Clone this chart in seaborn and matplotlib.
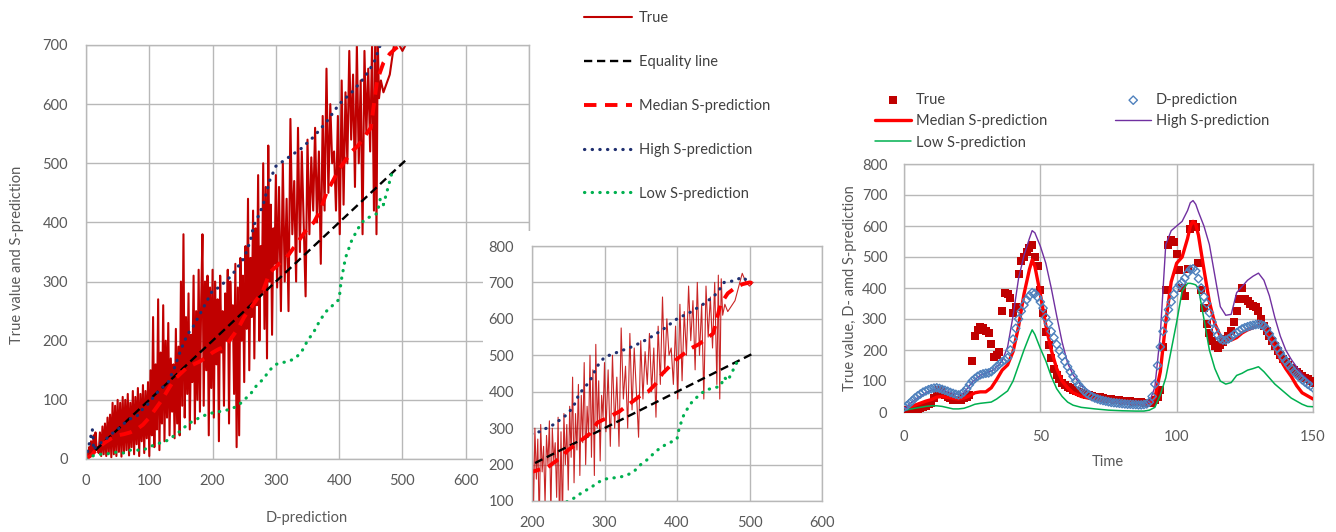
import numpy as np
import matplotlib
matplotlib.use("Agg")
import matplotlib.pyplot as plt
import seaborn as sns
from matplotlib.patches import Rectangle

sns.set_style("white")
plt.rcParams['font.family'] = ['Lato', 'DejaVu Sans']

# ---------------- left chart: True value vs D-prediction ----------------
true_d = [0, 2, 4, 5, 7, 8, 10, 12, 14, 15, 17, 18,
          20, 22, 24, 26, 28, 30, 32, 34, 36, 38, 40, 42, 44, 46, 48, 50, 52, 54, 56, 58, 60,
          62, 64, 66, 68, 70, 72, 74, 76, 78, 80, 82, 84, 86, 88, 90, 92, 94, 96, 98, 100,
          102, 104, 106, 108, 110, 112, 114, 116, 118, 120, 122, 124, 126, 128, 130, 132, 134, 136, 138, 140,
          142, 144, 146, 148, 150, 152, 154, 156, 158, 160,
          162, 164, 166, 168, 170, 172, 174, 176, 178, 180,
          182, 184, 186, 188, 190, 192, 194, 196, 198, 200,
          202, 204, 206, 208, 210, 212, 214, 216, 218, 220,
          222, 224, 226, 228, 230, 232, 234, 236, 238, 240,
          242, 244, 246, 248, 250, 252, 254, 256, 258, 260,
          262, 264, 266, 268, 270, 272, 274, 276, 278, 280,
          282, 284, 286, 288, 290, 292, 294, 296, 298, 300,
          302, 305, 308, 311, 314, 317, 320, 323, 326, 329,
          332, 335, 338, 341, 344, 347, 350, 353, 356, 359,
          362, 365, 368, 371, 374, 377, 380, 383, 386, 389,
          392, 395, 398, 401, 404, 407, 410, 413, 416, 419,
          422, 425, 428, 431, 434, 437, 440, 443, 446, 449,
          452, 455, 457, 459, 461, 463, 466, 470, 480, 490, 495, 500, 505]
true_y = [0, 10, 3, 20, 5, 30, 8, 40, 12, 45, 15, 20,
          10, 45, 5, 55, 8, 60, 5, 70, 10, 75, 3, 95, 8, 90, 5, 100, 12, 95, 4, 105, 10,
          100, 15, 110, 6, 95, 20, 115, 8, 105, 25, 120, 5, 110, 30, 125, 10, 115, 35, 130, 5,
          150, 40, 240, 20, 160, 50, 270, 15, 180, 60, 260, 30, 200, 70, 230, 40, 170, 80, 160, 35,
          220, 60, 190, 40, 300, 90, 380, 70, 240, 110,
          280, 50, 210, 130, 310, 60, 250, 100, 320, 80,
          270, 380, 90, 300, 150, 310, 40, 290, 120, 320,
          70, 300, 160, 270, 30, 310, 180, 250, 90, 280,
          200, 320, 60, 300, 210, 260, 110, 330, 20, 290,
          40, 340, 200, 310, 130, 360, 220, 440, 150, 340,
          240, 420, 170, 390, 260, 480, 200, 360, 280, 500,
          220, 460, 170, 530, 300, 430, 210, 390, 330, 480,
          290, 460, 250, 500, 300, 440, 250, 575, 380, 470,
          300, 560, 350, 520, 400, 275, 540, 380, 510, 420,
          560, 400, 520, 330, 580, 420, 660, 450, 600, 500,
          520, 420, 580, 380, 640, 430, 620, 500, 690, 540,
          650, 460, 700, 500, 640, 380, 690, 550, 660, 520,
          700, 420, 720, 380, 710, 610, 640, 620, 650, 725, 700, 690, 700]

eq_d = [0, 505]
eq_y = [0, 505]

med_d = [0, 10, 20, 30, 40, 50, 60, 70, 80, 90, 100, 110, 120, 130, 140, 150, 160, 170,
         180, 190, 200, 210, 220, 230, 240, 250, 260, 270, 280, 290, 300, 310, 320, 330,
         340, 350, 360, 370, 380, 390, 400, 410, 420, 430, 440, 450, 455, 460, 470, 480,
         490, 500, 505]
med_y = [0, 8, 20, 28, 35, 40, 42, 45, 50, 58, 70, 85, 100, 118, 135, 145, 155, 160,
         165, 172, 180, 186, 190, 205, 220, 240, 255, 270, 285, 315, 325, 335, 345, 360,
         375, 390, 400, 420, 450, 470, 490, 505, 520, 530, 545, 560, 600, 640, 670, 685,
         695, 700, 698]

high_d = [0, 3, 6, 9, 10, 11, 12, 15, 20, 30, 40, 50, 60, 70, 80, 90, 100, 110, 120,
          130, 140, 150, 160, 170, 180, 190, 200, 210, 220, 230, 240, 250, 260, 265, 270,
          280, 290, 300, 320, 340, 360, 380, 400, 420, 440, 455, 465, 480, 490, 500]
high_y = [0, 15, 30, 45, 50, 40, 15, 20, 25, 32, 42, 50, 60, 68, 72, 85, 95, 110, 120,
          130, 155, 185, 210, 225, 245, 265, 285, 290, 300, 310, 325, 340, 370, 395, 405,
          430, 470, 495, 510, 525, 545, 570, 600, 620, 645, 670, 700, 705, 715, 700]

low_d = [0, 10, 20, 30, 40, 50, 60, 70, 80, 90, 100, 110, 120, 130, 140, 150, 160, 170,
         180, 190, 200, 210, 220, 230, 240, 250, 260, 270, 280, 290, 300, 310, 320, 330,
         340, 350, 360, 370, 380, 390, 400, 403, 410, 420, 430, 440, 450, 460, 465, 470,
         475, 480, 485]
low_y = [0, 5, 8, 8, 10, 12, 10, 15, 15, 15, 20, 25, 28, 32, 40, 48, 58, 65,
         70, 75, 78, 80, 82, 85, 90, 100, 110, 125, 135, 150, 160, 163, 165, 170,
         180, 200, 215, 235, 250, 260, 270, 300, 340, 370, 390, 405, 410, 415, 440, 430,
         450, 470, 490]

# ---------------- right chart: time series ----------------
time = np.arange(151)
true_t = [5, 3, 8, 5, 10, 8, 12, 15, 18, 25,
          30, 45, 60, 70, 65, 55, 50, 45, 40, 38,
          40, 40, 45, 50, 55, 165, 245, 265, 275, 270,
          262, 255, 220, 178, 185, 192, 325, 385, 380, 368,
          320, 340, 445, 488, 500, 515, 530, 540, 500, 470,
          395, 320, 258, 215, 175, 140, 118, 105, 95, 88,
          82, 76, 72, 68, 64, 60, 58, 56, 54, 52,
          50, 48, 47, 45, 43, 42, 41, 40, 39, 38,
          37, 36, 35, 34, 33, 33, 32, 31, 30, 29,
          28, 30, 38, 50, 70, 210, 395, 540, 555, 548,
          510, 458, 400, 375, 460, 590, 605, 598, 480, 395,
          335, 285, 255, 228, 212, 205, 215, 225, 235, 245,
          260, 290, 325, 365, 400, 365, 358, 350, 342, 338,
          325, 300, 278, 262, 245, 228, 212, 198, 185, 172,
          162, 152, 142, 135, 128, 122, 116, 110, 105, 100,
          95]
dpred_t = [15, 20, 28, 36, 45, 52, 58, 64, 68, 72,
           75, 77, 78, 76, 73, 70, 67, 63, 60, 57,
           55, 58, 65, 75, 88, 100, 108, 115, 120, 123,
           125, 126, 130, 138, 146, 155, 162, 168, 175, 200,
           235, 270, 300, 325, 345, 362, 375, 385, 382, 370,
           355, 335, 305, 285, 260, 240, 218, 198, 180, 162,
           146, 130, 115, 100, 88, 78, 68, 60, 54, 49,
           45, 42, 39, 37, 35, 33, 31, 30, 29, 28,
           27, 26, 25, 25, 24, 24, 23, 23, 24, 26,
           32, 50, 90, 150, 210, 260, 300, 330, 355, 380,
           398, 410, 418, 432, 448, 460, 462, 455, 430, 400,
           372, 350, 320, 290, 265, 248, 236, 232, 232, 236,
           242, 250, 256, 262, 268, 272, 275, 278, 280, 282,
           283, 282, 278, 268, 252, 236, 220, 205, 190, 176,
           164, 152, 141, 130, 121, 112, 104, 97, 90, 84,
           78]

t_line = [0, 4, 8, 10, 12, 14, 16, 18, 20, 22,
          24, 26, 28, 30, 32, 34, 36, 38, 40, 42,
          44, 46, 47, 48, 50, 52, 54, 56, 58, 60,
          62, 65, 70, 75, 80, 85, 88, 90, 92, 94,
          96, 98, 100, 102, 104, 105, 106, 107, 108, 110,
          112, 114, 116, 118, 120, 122, 124, 126, 128, 130,
          132, 134, 136, 138, 140, 142, 144, 146, 148, 150]
median_t = [10, 22, 35, 40, 48, 50, 47, 44, 42, 45,
            52, 62, 65, 65, 78, 105, 135, 152, 195, 275,
            380, 460, 490, 470, 380, 280, 200, 140, 100, 78,
            62, 50, 40, 35, 31, 28, 26, 28, 45, 130,
            290, 420, 480, 500, 560, 600, 615, 605, 570, 460,
            355, 285, 245, 230, 232, 240, 255, 265, 272, 280,
            272, 240, 205, 170, 140, 115, 85, 62, 52, 42]
high_t = [10, 40, 62, 70, 72, 70, 66, 60, 56, 62,
          85, 105, 118, 125, 132, 145, 165, 210, 310, 430,
          505, 560, 585, 578, 535, 480, 400, 310, 225, 158,
          120, 85, 55, 40, 33, 28, 27, 32, 80, 250,
          540, 585, 600, 615, 650, 675, 682, 670, 645, 600,
          540, 440, 340, 312, 315, 385, 405, 425, 438, 448,
          425, 375, 305, 245, 200, 170, 145, 122, 105, 90]
low_t = [5, 12, 18, 20, 20, 18, 14, 10, 10, 12,
         18, 25, 28, 30, 32, 42, 55, 68, 100, 150,
         200, 245, 265, 250, 205, 165, 115, 75, 50, 32,
         22, 15, 10, 6, 4, 3, 3, 6, 15, 55,
         110, 200, 290, 390, 415, 415, 413, 410, 398, 300,
         200, 140, 100, 90, 95, 118, 125, 135, 140, 146,
         130, 110, 90, 75, 60, 45, 35, 25, 18, 17]

# ---------------- styles ----------------
GRID = '#b8b8b8'
TXT = '#595959'
DARKRED = '#c00000'
RED = '#ff0000'
NAVY = '#1f2f70'
GREEN = '#00b050'
PURPLE = '#7030a0'
BLUE = '#4f81bd'

W, H = 1336, 532
fig = plt.figure(figsize=(W / 100, H / 100), dpi=100)


def box(x0, y0, x1, y1):
    # pixel box (top-left origin) -> figure fraction rect
    return [x0 / W, 1 - y1 / H, (x1 - x0) / W, (y1 - y0) / H]


def style(ax, xlim, ylim, xticks, yticks, xpad, ypad):
    ax.set_xlim(*xlim)
    ax.set_ylim(*ylim)
    ax.set_xticks(xticks)
    ax.set_yticks(yticks)
    ax.grid(True, color=GRID, lw=1)
    ax.set_axisbelow(True)
    for s in ax.spines.values():
        s.set_color(GRID)
        s.set_linewidth(1)
    ax.tick_params(length=0, labelsize=10.5, colors=TXT)
    ax.tick_params(axis='x', pad=xpad)
    ax.tick_params(axis='y', pad=ypad)


def draw_left(ax, thin=False):
    sns.lineplot(x=true_d, y=true_y, ax=ax, color=DARKRED, lw=0.8 if thin else 1.5,
                 alpha=0.85 if thin else 1, estimator=None, sort=False, legend=False, label='True')
    sns.lineplot(x=eq_d, y=eq_y, ax=ax, color='black', lw=1.7, linestyle=(0, (3.5, 2)),
                 estimator=None, sort=False, legend=False, label='Equality line')
    sns.lineplot(x=med_d, y=med_y, ax=ax, color=RED, lw=2.8, linestyle=(0, (3.2, 2.2)),
                 estimator=None, sort=False, legend=False, label='Median S-prediction')
    sns.lineplot(x=high_d, y=high_y, ax=ax, color=NAVY, lw=2.3, linestyle=(0, (0.1, 2.3)),
                 dash_capstyle='round', estimator=None, sort=False, legend=False,
                 label='High S-prediction')
    sns.lineplot(x=low_d, y=low_y, ax=ax, color=GREEN, lw=2.3, linestyle=(0, (0.1, 2.3)),
                 dash_capstyle='round', estimator=None, sort=False, legend=False,
                 label='Low S-prediction')


# main left axes
ax1 = fig.add_axes(box(86, 45, 529, 459))
draw_left(ax1)
style(ax1, (0, 700), (0, 700), range(0, 701, 100), range(0, 701, 100), 11, 13)
ax1.set_xlabel('D-prediction', fontsize=10.5, color=TXT)
ax1.set_ylabel('True value and S-prediction', fontsize=10.5, color=TXT)
ax1.xaxis.set_label_coords(0.499, -0.125)
ax1.yaxis.set_label_coords(-0.14, 0.493)

# white patch behind the inset
fig.add_artist(Rectangle((483 / W, 0), (833 - 483) / W, (H - 231) / H,
                         transform=fig.transFigure, facecolor='white',
                         edgecolor='none', zorder=1))

# inset axes
ax2 = fig.add_axes(box(532, 246, 822, 501))
ax2.set_zorder(2)
draw_left(ax2, thin=True)
style(ax2, (200, 600), (100, 800), range(200, 601, 100), range(100, 801, 100), 11, 13)
ax2.tick_params(axis='y', length=5, color=GRID, pad=8)
ax2.set_xlabel('')
ax2.set_ylabel('')

h, l = ax1.get_legend_handles_labels()
fig.legend(h, l, loc='upper left', bbox_to_anchor=(584 / W, 1 - 11 / H), frameon=False,
           fontsize=10.5, labelcolor='#404040', handlelength=3.3, handletextpad=0.45,
           labelspacing=2.05, borderpad=0, borderaxespad=0)

# right axes
ax3 = fig.add_axes(box(904, 164, 1313, 412))
ax3.set_zorder(3)
sns.scatterplot(x=time, y=true_t, ax=ax3, marker='s', s=40, color=DARKRED,
                edgecolor=DARKRED, linewidth=0, legend=False, label='True', zorder=3)
sns.scatterplot(x=time, y=dpred_t, ax=ax3, marker='D', s=18, facecolor='none',
                edgecolor=BLUE, linewidth=1.0, legend=False, label='D-prediction', zorder=4)
sns.lineplot(x=t_line, y=median_t, ax=ax3, color=RED, lw=2.4, estimator=None, sort=False,
             legend=False, label='Median S-prediction', zorder=3)
sns.lineplot(x=t_line, y=high_t, ax=ax3, color=PURPLE, lw=1.0, estimator=None, sort=False,
             legend=False, label='High S-prediction', zorder=3)
sns.lineplot(x=t_line, y=low_t, ax=ax3, color=GREEN, lw=1.1, estimator=None, sort=False,
             legend=False, label='Low S-prediction', zorder=3)
style(ax3, (0, 150), (0, 800), [0, 50, 100, 150], range(0, 801, 100), 13, 12)
ax3.set_xlabel('Time', fontsize=10.5, color=TXT)
ax3.set_ylabel('True value, D- amd S-prediction', fontsize=10.5, color=TXT)
ax3.xaxis.set_label_coords(0.499, -0.175)
ax3.yaxis.set_label_coords(-0.115, 0.5)

h3, l3 = ax3.get_legend_handles_labels()
lab = dict(zip(l3, h3))
col1 = ['True', 'Median S-prediction', 'Low S-prediction']
col2 = ['D-prediction', 'High S-prediction']
fig.legend([lab[k] for k in col1], col1, loc='upper left',
           bbox_to_anchor=(875 / W, 1 - 93 / H), frameon=False, fontsize=10.5,
           labelcolor='#404040', handlelength=2.5, handletextpad=0.3, labelspacing=0.5,
           borderpad=0, borderaxespad=0)
fig.legend([lab[k] for k in col2], col2, loc='upper left',
           bbox_to_anchor=(1115 / W, 1 - 93 / H), frameon=False, fontsize=10.5,
           labelcolor='#404040', handlelength=2.5, handletextpad=0.3, labelspacing=0.5,
           borderpad=0, borderaxespad=0)

fig.savefig('out.png', dpi=100, facecolor='white')
